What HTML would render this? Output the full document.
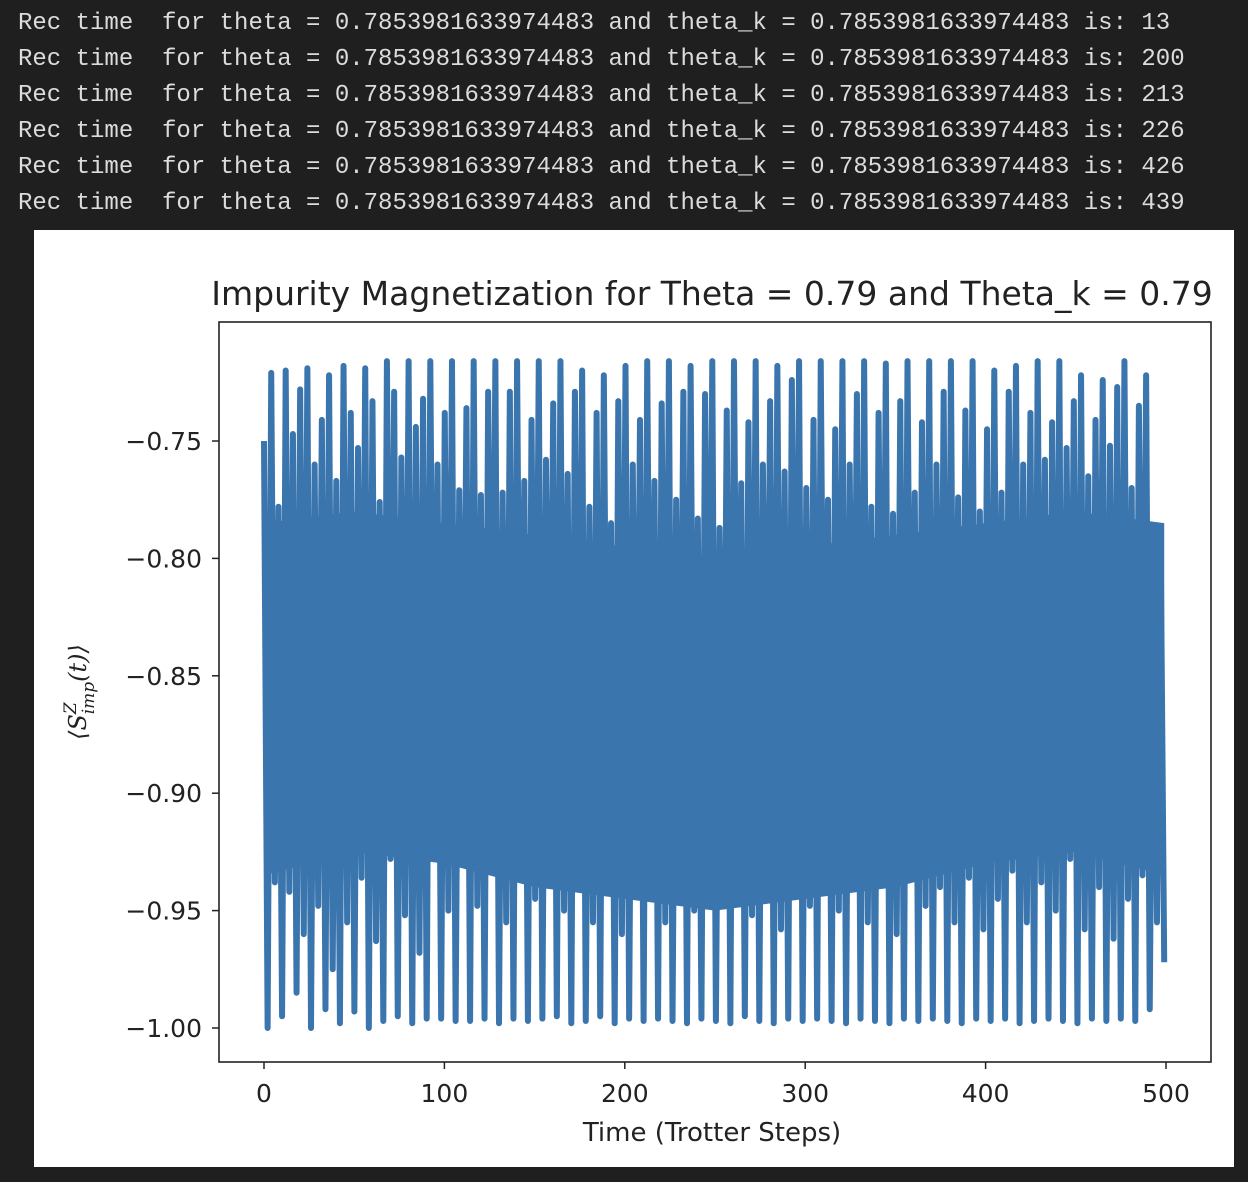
<!DOCTYPE html>
<html><head><meta charset="utf-8"><style>
body{margin:0;width:1248px;height:1182px;background:#1f1f1f;overflow:hidden;position:relative}
.log{position:absolute;left:18px;top:6px;font:24px/36px "Liberation Mono",monospace;color:#dcdcdc;white-space:pre;margin:0}
#chart{position:absolute;left:34px;top:230px}
</style></head><body>
<pre class="log">Rec time  for theta = 0.7853981633974483 and theta_k = 0.7853981633974483 is: 13
Rec time  for theta = 0.7853981633974483 and theta_k = 0.7853981633974483 is: 200
Rec time  for theta = 0.7853981633974483 and theta_k = 0.7853981633974483 is: 213
Rec time  for theta = 0.7853981633974483 and theta_k = 0.7853981633974483 is: 226
Rec time  for theta = 0.7853981633974483 and theta_k = 0.7853981633974483 is: 426
Rec time  for theta = 0.7853981633974483 and theta_k = 0.7853981633974483 is: 439</pre>
<svg id="chart" width="1200" height="937" xmlns="http://www.w3.org/2000/svg" font-family="'DejaVu Sans','Liberation Sans',sans-serif">
<rect width="1200" height="937" fill="#fff"/>
<text x="678" y="75" font-size="33" text-anchor="middle" fill="#222">Impurity Magnetization for Theta = 0.79 and Theta_k = 0.79</text>
<g id="series"></g>
<g id="yticks"></g><g id="xticks"></g>
<rect x="185" y="92" width="992" height="740" fill="none" stroke="#222" stroke-width="1.6"/>
<text x="678" y="911" font-size="26" text-anchor="middle" fill="#222">Time (Trotter Steps)</text>
<text transform="translate(52,462) rotate(-90)" font-size="24" text-anchor="middle" fill="#222" font-family="'DejaVu Serif',serif" font-style="italic">⟨S<tspan font-size="17" dy="-10">Z</tspan><tspan font-size="17" dy="18" dx="-12">imp</tspan><tspan dy="-8">(t)⟩</tspan></text>
</svg>
<script>
const xTicks=[0,100,200,300,400,500];
const yTicks=[-0.75,-0.80,-0.85,-0.90,-0.95,-1.00];
const yTickLabels=["−0.75","−0.80","−0.85","−0.90","−0.95","−1.00"];
const tMax=499;
const bandTimes=[0,50,100,150,200,250,300,350,400,450,499];
const bandTop=[-0.785,-0.780,-0.785,-0.790,-0.795,-0.800,-0.795,-0.790,-0.785,-0.780,-0.785];
const bandBottom=[-0.935,-0.925,-0.930,-0.940,-0.945,-0.950,-0.945,-0.940,-0.930,-0.925,-0.935];
const highs=[-0.750,-0.721,-0.778,-0.720,-0.747,-0.728,-0.719,-0.760,-0.741,-0.722,-0.767,-0.718,-0.738,-0.753,-0.719,-0.733,-0.776,-0.716,-0.729,-0.757,-0.716,-0.744,-0.732,-0.716,-0.760,-0.738,-0.716,-0.771,-0.736,-0.716,-0.773,-0.729,-0.716,-0.772,-0.729,-0.716,-0.767,-0.741,-0.716,-0.758,-0.734,-0.716,-0.764,-0.729,-0.720,-0.778,-0.738,-0.722,-0.785,-0.733,-0.718,-0.760,-0.741,-0.716,-0.767,-0.734,-0.716,-0.775,-0.729,-0.718,-0.783,-0.730,-0.716,-0.787,-0.737,-0.716,-0.768,-0.742,-0.716,-0.760,-0.733,-0.718,-0.763,-0.724,-0.716,-0.770,-0.741,-0.716,-0.775,-0.745,-0.716,-0.760,-0.730,-0.716,-0.778,-0.738,-0.717,-0.781,-0.733,-0.716,-0.772,-0.742,-0.716,-0.760,-0.729,-0.716,-0.774,-0.737,-0.716,-0.780,-0.745,-0.720,-0.772,-0.729,-0.718,-0.760,-0.738,-0.716,-0.758,-0.742,-0.716,-0.753,-0.733,-0.722,-0.765,-0.741,-0.724,-0.752,-0.727,-0.716,-0.770,-0.735,-0.722,-0.789,-0.787];
const lows=[-1.000,-0.938,-0.995,-0.942,-0.985,-0.960,-1.000,-0.948,-0.992,-0.975,-0.998,-0.955,-0.993,-0.936,-1.000,-0.963,-0.997,-0.928,-0.995,-0.952,-0.998,-0.968,-0.996,-0.925,-0.996,-0.950,-0.997,-0.923,-0.997,-0.948,-0.996,-0.919,-0.998,-0.955,-0.996,-0.930,-0.997,-0.945,-0.996,-0.924,-0.995,-0.950,-0.998,-0.936,-0.997,-0.955,-0.995,-0.925,-0.998,-0.960,-0.996,-0.940,-0.997,-0.928,-0.996,-0.955,-0.997,-0.934,-0.998,-0.950,-0.996,-0.921,-0.997,-0.945,-0.998,-0.918,-0.995,-0.952,-0.997,-0.927,-0.998,-0.958,-0.996,-0.935,-0.997,-0.948,-0.996,-0.922,-0.997,-0.950,-0.998,-0.930,-0.996,-0.955,-0.997,-0.938,-0.998,-0.960,-0.996,-0.929,-0.997,-0.948,-0.996,-0.940,-0.997,-0.955,-0.998,-0.936,-0.996,-0.958,-0.997,-0.945,-0.996,-0.933,-0.998,-0.955,-0.997,-0.938,-0.996,-0.950,-0.997,-0.928,-0.998,-0.958,-0.996,-0.940,-0.997,-0.962,-0.996,-0.945,-0.997,-0.935,-0.992,-0.955,-0.972];
const NS="http://www.w3.org/2000/svg";
const X=t=>230+(t/500)*902;
const Y=v=>211+(-0.75-v)/0.25*587;
const C="#3a75ae";
const band=[];
bandTimes.forEach((t,i)=>band.push(X(t).toFixed(2)+","+Y(bandTop[i]).toFixed(2)));
for(let i=bandTimes.length-1;i>=0;i--)band.push(X(bandTimes[i]).toFixed(2)+","+Y(bandBottom[i]).toFixed(2));
const bp=document.createElementNS(NS,"polygon");


bp.setAttribute("points",band.join(" "));bp.setAttribute("fill",C);
document.getElementById("series").appendChild(bp);
const n=Math.min(highs.length,lows.length);
let pts=[];
for(let i=0;i<n;i++){
  const t=i*tMax/(n-0.5);
  pts.push(X(t).toFixed(2)+","+Y(highs[i]).toFixed(2));
  const t2=(i+0.5)*tMax/(n-0.5);
  pts.push(X(t2).toFixed(2)+","+Y(lows[i]).toFixed(2));
}
const pl=document.createElementNS(NS,"polyline");


pl.setAttribute("points",pts.join(" "));
pl.setAttribute("fill","none");pl.setAttribute("stroke",C);pl.setAttribute("stroke-width","6");pl.setAttribute("stroke-linejoin","round");
document.getElementById("series").appendChild(pl);
const yg=document.getElementById("yticks");
yTicks.forEach((v,i)=>{
  const l=document.createElementNS(NS,"line");
  
  
  l.setAttribute("x1",178);l.setAttribute("x2",185);l.setAttribute("y1",Y(v));l.setAttribute("y2",Y(v));l.setAttribute("stroke","#222");l.setAttribute("stroke-width","1.5");
  yg.appendChild(l);
  const tx=document.createElementNS(NS,"text");
  
  
  tx.setAttribute("x",168);tx.setAttribute("y",Y(v)+9);tx.setAttribute("text-anchor","end");tx.setAttribute("font-size","25");tx.setAttribute("fill","#222");
  tx.textContent=yTickLabels[i];yg.appendChild(tx);
});
const xg=document.getElementById("xticks");
xTicks.forEach(t=>{
  const l=document.createElementNS(NS,"line");
  
  
  l.setAttribute("x1",X(t));l.setAttribute("x2",X(t));l.setAttribute("y1",832);l.setAttribute("y2",839);l.setAttribute("stroke","#222");l.setAttribute("stroke-width","1.5");
  xg.appendChild(l);
  const tx=document.createElementNS(NS,"text");
  
  
  tx.setAttribute("x",X(t));tx.setAttribute("y",872);tx.setAttribute("text-anchor","middle");tx.setAttribute("font-size","25");tx.setAttribute("fill","#222");
  tx.textContent=String(t);xg.appendChild(tx);
});
</script>
</body></html>
